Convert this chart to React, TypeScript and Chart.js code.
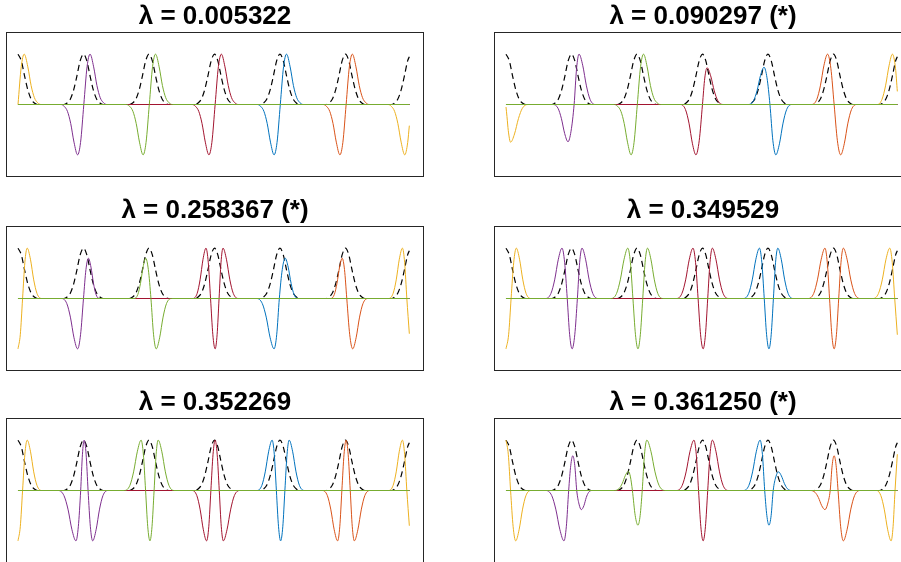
import React, { useEffect, useRef } from "react";
import { Chart, registerables } from "chart.js";
Chart.register(...registerables);

type Pt = [number, number];

// ---------- titles ----------
const TITLES: string[] = [
  "λ = 0.005322",
  "λ = 0.090297 (*)",
  "λ = 0.258367 (*)",
  "λ = 0.349529",
  "λ = 0.352269",
  "λ = 0.361250 (*)",
];

// ---------- common dashed reference curve ----------
const DASHED: Pt[] = [
  [0, 1], [0.05, 0.87], [0.1, 0.57], [0.15, 0.29], [0.2, 0.11], [0.25, 0.03], [0.3, 0],
  [0.7, 0], [0.75, 0.03], [0.8, 0.11], [0.85, 0.29], [0.9, 0.57], [0.95, 0.87], [1, 1], [1.05, 0.87], [1.1, 0.57], [1.15, 0.29], [1.2, 0.11], [1.25, 0.03], [1.3, 0],
  [1.7, 0], [1.75, 0.03], [1.8, 0.11], [1.85, 0.29], [1.9, 0.57], [1.95, 0.87], [2, 1], [2.05, 0.87], [2.1, 0.57], [2.15, 0.29], [2.2, 0.11], [2.25, 0.03], [2.3, 0],
  [2.7, 0], [2.75, 0.03], [2.8, 0.11], [2.85, 0.29], [2.9, 0.57], [2.95, 0.87], [3, 1], [3.05, 0.87], [3.1, 0.57], [3.15, 0.29], [3.2, 0.11], [3.25, 0.03], [3.3, 0],
  [3.7, 0], [3.75, 0.03], [3.8, 0.11], [3.85, 0.29], [3.9, 0.57], [3.95, 0.87], [4, 1], [4.05, 0.87], [4.1, 0.57], [4.15, 0.29], [4.2, 0.11], [4.25, 0.03], [4.3, 0],
  [4.7, 0], [4.75, 0.03], [4.8, 0.11], [4.85, 0.29], [4.9, 0.57], [4.95, 0.87], [5, 1], [5.05, 0.87], [5.1, 0.57], [5.15, 0.29], [5.2, 0.11], [5.25, 0.03], [5.3, 0],
  [5.7, 0], [5.75, 0.03], [5.8, 0.11], [5.85, 0.29], [5.9, 0.57], [5.95, 0.87], [5.975, 0.95],
];

// ---------- panel 1 ----------
const P1_ORANGE: Pt[] = [[0, 0], [0.05, 0.755], [0.095, 1], [0.15, 0.748], [0.2, 0.378], [0.25, 0.136], [0.3, 0.036], [0.35, 0], [5.65, 0], [5.7, -0.036], [5.75, -0.136], [5.8, -0.378], [5.85, -0.748], [5.905, -1], [5.95, -0.755], [5.975, -0.42]];
const P1_PURPLE: Pt[] = [[0, 0], [0.655, 0], [0.705, -0.036], [0.755, -0.136], [0.805, -0.378], [0.855, -0.748], [0.91, -1], [0.955, -0.755], [1.005, 0], [1.055, 0.755], [1.1, 1], [1.155, 0.748], [1.205, 0.378], [1.255, 0.136], [1.305, 0.036], [1.355, 0], [5.975, 0]];
const P1_GREEN: Pt[] = [[0, 0], [1.655, 0], [1.705, -0.036], [1.755, -0.136], [1.805, -0.378], [1.855, -0.748], [1.91, -1], [1.955, -0.755], [2.005, 0], [2.055, 0.755], [2.1, 1], [2.155, 0.748], [2.205, 0.378], [2.255, 0.136], [2.305, 0.036], [2.355, 0], [5.975, 0]];
const P1_RED: Pt[] = [[0, 0], [2.66, 0], [2.71, -0.036], [2.76, -0.136], [2.81, -0.378], [2.86, -0.748], [2.915, -1], [2.96, -0.755], [3.01, 0], [3.06, 0.755], [3.105, 1], [3.16, 0.748], [3.21, 0.378], [3.26, 0.136], [3.31, 0.036], [3.36, 0], [5.975, 0]];
const P1_BLUE: Pt[] = [[0, 0], [3.655, 0], [3.705, -0.036], [3.755, -0.136], [3.805, -0.378], [3.855, -0.748], [3.91, -1], [3.955, -0.755], [4.005, 0], [4.055, 0.755], [4.1, 1], [4.155, 0.748], [4.205, 0.378], [4.255, 0.136], [4.305, 0.036], [4.355, 0], [5.975, 0]];
const P1_ORANGERED: Pt[] = [[0, 0], [4.66, 0], [4.71, -0.036], [4.76, -0.136], [4.81, -0.378], [4.86, -0.748], [4.915, -1], [4.96, -0.755], [5.01, 0], [5.06, 0.755], [5.105, 1], [5.16, 0.748], [5.21, 0.378], [5.26, 0.136], [5.31, 0.036], [5.36, 0], [5.975, 0]];

// ---------- panel 2 ----------
const P2_ORANGE: Pt[] = [[0, -0.05], [0.015, -0.24], [0.035, -0.52], [0.07, -0.75], [0.13, -0.585], [0.19, -0.28], [0.25, -0.075], [0.334, 0], [5.67, 0], [5.74, 0.1], [5.795, 0.37], [5.85, 0.78], [5.9, 1], [5.947, 0.72], [5.975, 0.26]];
const P2_PURPLE: Pt[] = [[0, 0], [0.72, 0], [0.794, -0.074], [0.845, -0.274], [0.896, -0.577], [0.947, -0.74], [0.993, -0.53], [1.04, 0], [1.078, 0.72], [1.115, 1], [1.171, 0.78], [1.228, 0.37], [1.284, 0.1], [1.36, 0], [5.975, 0]];
const P2_GREEN: Pt[] = [[0, 0], [1.655, 0], [1.705, -0.036], [1.755, -0.136], [1.805, -0.378], [1.855, -0.748], [1.91, -1], [1.955, -0.755], [2.005, 0], [2.055, 0.755], [2.1, 1], [2.155, 0.748], [2.205, 0.378], [2.255, 0.136], [2.305, 0.036], [2.355, 0], [5.975, 0]];
const P2_RED: Pt[] = [[0, 0], [2.666, 0], [2.74, -0.1], [2.794, -0.37], [2.847, -0.78], [2.9, -1], [2.95, -0.72], [3.0, 0], [3.035, 0.525], [3.07, 0.73], [3.125, 0.57], [3.18, 0.27], [3.235, 0.073], [3.312, 0], [5.975, 0]];
const P2_BLUE: Pt[] = [[0, 0], [3.7, 0], [3.779, 0.074], [3.833, 0.274], [3.886, 0.577], [3.94, 0.74], [3.985, 0.53], [4.03, 0], [4.075, -0.72], [4.12, -1], [4.175, -0.78], [4.23, -0.37], [4.285, -0.1], [4.362, 0], [5.975, 0]];
const P2_ORANGERED: Pt[] = [[0, 0], [4.668, 0], [4.745, 0.1], [4.8, 0.37], [4.855, 0.78], [4.91, 1], [4.96, 0.72], [5.01, 0], [5.06, -0.72], [5.11, -1], [5.165, -0.78], [5.22, -0.37], [5.275, -0.1], [5.352, 0], [5.975, 0]];

// ---------- panel 3 ----------
const P3_ORANGE: Pt[] = [[0, -1], [0.035, -0.72], [0.07, 0], [0.105, 0.72], [0.14, 1], [0.19, 0.78], [0.24, 0.37], [0.29, 0.1], [0.36, 0], [5.66, 0], [5.727, 0.1], [5.775, 0.37], [5.822, 0.78], [5.87, 1], [5.903, 0.72], [5.937, 0], [5.975, -0.7]];
const P3_PURPLE: Pt[] = [[0, 0], [0.668, 0], [0.745, -0.1], [0.8, -0.37], [0.855, -0.78], [0.91, -1], [0.955, -0.72], [1.0, 0], [1.0375, 0.576], [1.075, 0.8], [1.114, 0.624], [1.153, 0.3], [1.191, 0.08], [1.245, 0], [5.975, 0]];
const P3_GREEN: Pt[] = [[0, 0], [1.774, 0], [1.83, 0.08], [1.87, 0.3], [1.91, 0.624], [1.95, 0.8], [1.99, 0.576], [2.03, 0], [2.07, -0.72], [2.11, -1], [2.1625, -0.78], [2.215, -0.37], [2.2675, -0.1], [2.341, 0], [5.975, 0]];
const P3_RED: Pt[] = [[0, 0], [2.672, 0], [2.735, 0.1], [2.78, 0.37], [2.825, 0.78], [2.87, 1], [2.905, 0.72], [2.94, 0], [2.975, -0.72], [3.01, -1], [3.04, -0.72], [3.07, 0], [3.1, 0.72], [3.13, 1], [3.1825, 0.78], [3.235, 0.37], [3.2875, 0.1], [3.361, 0], [5.975, 0]];
const P3_BLUE: Pt[] = [[0, 0], [3.646, 0], [3.73, -0.1], [3.79, -0.37], [3.85, -0.78], [3.91, -1], [3.95, -0.72], [3.99, 0], [4.035, 0.576], [4.08, 0.8], [4.125, 0.624], [4.17, 0.3], [4.215, 0.08], [4.278, 0], [5.975, 0]];
const P3_ORANGERED: Pt[] = [[0, 0], [4.774, 0], [4.83, 0.08], [4.87, 0.3], [4.91, 0.624], [4.95, 0.8], [4.985, 0.576], [5.02, 0], [5.065, -0.72], [5.11, -1], [5.1625, -0.78], [5.215, -0.37], [5.2675, -0.1], [5.341, 0], [5.975, 0]];

// ---------- panel 4 ----------
const P4_ORANGE: Pt[] = [[0, -1], [0.04, -0.72], [0.078, 0], [0.118, 0.72], [0.157, 1], [0.207, 0.78], [0.257, 0.37], [0.307, 0.1], [0.377, 0], [5.607, 0], [5.687, 0.1], [5.745, 0.37], [5.802, 0.78], [5.86, 1], [5.897, 0.72], [5.935, 0], [5.975, -0.72]];
const P4_PURPLE: Pt[] = [[0, 0], [0.607, 0], [0.686, 0.1], [0.743, 0.37], [0.799, 0.78], [0.855, 1], [0.895, 0.72], [0.935, 0], [0.972, -0.72], [1.01, -1], [1.05, -0.72], [1.09, 0], [1.125, 0.72], [1.16, 1], [1.215, 0.78], [1.27, 0.37], [1.325, 0.1], [1.402, 0], [5.975, 0]];
const P4_GREEN: Pt[] = [[0, 0], [1.607, 0], [1.688, 0.1], [1.745, 0.37], [1.803, 0.78], [1.86, 1], [1.899, 0.72], [1.938, 0], [1.977, -0.72], [2.015, -1], [2.051, -0.72], [2.088, 0], [2.124, 0.72], [2.16, 1], [2.2125, 0.78], [2.265, 0.37], [2.3175, 0.1], [2.391, 0], [5.975, 0]];
const P4_RED: Pt[] = [[0, 0], [2.607, 0], [2.686, 0.1], [2.743, 0.37], [2.799, 0.78], [2.855, 1], [2.894, 0.72], [2.933, 0], [2.971, -0.72], [3.01, -1], [3.045, -0.72], [3.08, 0], [3.115, 0.72], [3.15, 1], [3.205, 0.78], [3.26, 0.37], [3.315, 0.1], [3.392, 0], [5.975, 0]];
const P4_BLUE: Pt[] = [[0, 0], [3.628, 0], [3.705, 0.1], [3.76, 0.37], [3.815, 0.78], [3.87, 1], [3.906, 0.72], [3.943, 0], [3.979, -0.72], [4.015, -1], [4.049, -0.72], [4.083, 0], [4.116, 0.72], [4.15, 1], [4.2025, 0.78], [4.255, 0.37], [4.3075, 0.1], [4.381, 0], [5.975, 0]];
const P4_ORANGERED: Pt[] = [[0, 0], [4.617, 0], [4.698, 0.1], [4.755, 0.37], [4.813, 0.78], [4.87, 1], [4.905, 0.72], [4.94, 0], [4.975, -0.72], [5.01, -1], [5.045, -0.72], [5.08, 0], [5.115, 0.72], [5.15, 1], [5.2075, 0.78], [5.265, 0.37], [5.3225, 0.1], [5.403, 0], [5.975, 0]];

// ---------- panel 5 ----------
const P5_ORANGE: Pt[] = [[0, -1], [0.035, -0.72], [0.07, 0], [0.105, 0.72], [0.14, 1], [0.19, 0.78], [0.24, 0.37], [0.29, 0.1], [0.36, 0], [5.66, 0], [5.727, 0.1], [5.775, 0.37], [5.822, 0.78], [5.87, 1], [5.903, 0.72], [5.937, 0], [5.975, -0.7]];
const P5_PURPLE: Pt[] = [[0, 0], [0.616, 0], [0.701, -0.1], [0.763, -0.37], [0.824, -0.78], [0.885, -1], [0.921, -0.72], [0.957, 0], [0.984, 0.72], [1.01, 1], [1.04, 0.72], [1.07, 0], [1.105, -0.72], [1.14, -1], [1.1925, -0.78], [1.245, -0.37], [1.2975, -0.1], [1.371, 0], [5.975, 0]];
const P5_GREEN: Pt[] = [[0, 0], [1.627, 0], [1.708, 0.1], [1.765, 0.37], [1.823, 0.78], [1.88, 1], [1.914, 0.72], [1.948, 0], [1.981, -0.72], [2.015, -1], [2.046, -0.72], [2.078, 0], [2.109, 0.72], [2.14, 1], [2.195, 0.78], [2.25, 0.37], [2.305, 0.1], [2.382, 0], [5.975, 0]];
const P5_RED: Pt[] = [[0, 0], [2.66, 0], [2.73, -0.1], [2.78, -0.37], [2.83, -0.78], [2.88, -1], [2.913, -0.72], [2.945, 0], [2.978, 0.72], [3.01, 1], [3.041, 0.72], [3.073, 0], [3.104, -0.72], [3.135, -1], [3.191, -0.78], [3.248, -0.37], [3.304, -0.1], [3.383, 0], [5.975, 0]];
const P5_BLUE: Pt[] = [[0, 0], [3.649, 0], [3.723, 0.1], [3.775, 0.37], [3.828, 0.78], [3.88, 1], [3.913, 0.72], [3.945, 0], [3.978, -0.72], [4.01, -1], [4.043, -0.72], [4.075, 0], [4.108, 0.72], [4.14, 1], [4.1925, 0.78], [4.245, 0.37], [4.2975, 0.1], [4.371, 0], [5.975, 0]];
const P5_ORANGERED: Pt[] = [[0, 0], [4.649, 0], [4.723, -0.1], [4.775, -0.37], [4.828, -0.78], [4.88, -1], [4.913, -0.72], [4.945, 0], [4.978, 0.72], [5.01, 1], [5.041, 0.72], [5.073, 0], [5.104, -0.72], [5.135, -1], [5.189, -0.78], [5.243, -0.37], [5.296, -0.1], [5.372, 0], [5.975, 0]];

// ---------- panel 6 ----------
const P6_ORANGE: Pt[] = [[0, 1], [0.035, 0.72], [0.07, 0], [0.109, -0.72], [0.148, -1], [0.2, -0.78], [0.253, -0.37], [0.305, -0.1], [0.38, 0], [5.659, 0], [5.723, -0.1], [5.775, -0.37], [5.828, -0.78], [5.88, -1], [5.91, -0.72], [5.94, 0], [5.975, 0.72]];
const P6_PURPLE: Pt[] = [[0, 0], [0.61, 0], [0.698, -0.1], [0.76, -0.37], [0.823, -0.78], [0.885, -1], [0.921, -0.72], [0.957, 0], [0.989, 0.5], [1.02, 0.69], [1.05, 0.5], [1.08, 0], [1.115, -0.27], [1.15, -0.38], [1.19, -0.3], [1.225, -0.14], [1.26, -0.04], [1.31, 0], [5.975, 0]];
const P6_GREEN: Pt[] = [[0, 0], [1.66, 0], [1.727, 0.038], [1.775, 0.14], [1.823, 0.3], [1.87, 0.38], [1.9, 0.27], [1.93, 0], [1.973, -0.5], [2.015, -0.69], [2.048, -0.5], [2.08, 0], [2.115, 0.72], [2.15, 1], [2.2125, 0.78], [2.275, 0.37], [2.3375, 0.1], [2.425, 0], [5.975, 0]];
const P6_RED: Pt[] = [[0, 0], [2.606, 0], [2.69, 0.1], [2.75, 0.37], [2.81, 0.78], [2.87, 1], [2.905, 0.72], [2.94, 0], [2.975, -0.72], [3.01, -1], [3.045, -0.72], [3.08, 0], [3.115, 0.72], [3.15, 1], [3.205, 0.78], [3.26, 0.37], [3.315, 0.1], [3.392, 0], [5.975, 0]];
const P6_BLUE: Pt[] = [[0, 0], [3.627, 0], [3.708, 0.1], [3.765, 0.37], [3.823, 0.78], [3.88, 1], [3.915, 0.72], [3.95, 0], [3.983, -0.5], [4.015, -0.69], [4.048, -0.5], [4.08, 0], [4.12, 0.27], [4.16, 0.37], [4.205, 0.29], [4.25, 0.14], [4.295, 0.037], [4.358, 0], [5.975, 0]];
const P6_ORANGERED: Pt[] = [[0, 0], [4.65, 0], [4.72, -0.038], [4.77, -0.14], [4.82, -0.3], [4.87, -0.38], [4.91, -0.27], [4.95, 0], [4.98, 0.5], [5.01, 0.69], [5.04, 0.5], [5.07, 0], [5.11, -0.72], [5.15, -1], [5.2075, -0.78], [5.265, -0.37], [5.3225, -0.1], [5.403, 0], [5.975, 0]];

// ---------- styling ----------
const C_ORANGE = "#EDB120";
const C_PURPLE = "#7E2F8E";
const C_GREEN = "#77AC30";
const C_RED = "#A2142F";
const C_BLUE = "#0072BD";
const C_ORANGERED = "#D95319";

type Curves = { orange: Pt[]; purple: Pt[]; green: Pt[]; red: Pt[]; blue: Pt[]; orangered: Pt[] };

const PANELS: { title: string; curves: Curves; left: number; top: number }[] = [
  { title: TITLES[0], left: 6, top: 0, curves: { orange: P1_ORANGE, purple: P1_PURPLE, green: P1_GREEN, red: P1_RED, blue: P1_BLUE, orangered: P1_ORANGERED } },
  { title: TITLES[1], left: 494, top: 0, curves: { orange: P2_ORANGE, purple: P2_PURPLE, green: P2_GREEN, red: P2_RED, blue: P2_BLUE, orangered: P2_ORANGERED } },
  { title: TITLES[2], left: 6, top: 194, curves: { orange: P3_ORANGE, purple: P3_PURPLE, green: P3_GREEN, red: P3_RED, blue: P3_BLUE, orangered: P3_ORANGERED } },
  { title: TITLES[3], left: 494, top: 194, curves: { orange: P4_ORANGE, purple: P4_PURPLE, green: P4_GREEN, red: P4_RED, blue: P4_BLUE, orangered: P4_ORANGERED } },
  { title: TITLES[4], left: 6, top: 386, curves: { orange: P5_ORANGE, purple: P5_PURPLE, green: P5_GREEN, red: P5_RED, blue: P5_BLUE, orangered: P5_ORANGERED } },
  { title: TITLES[5], left: 494, top: 386, curves: { orange: P6_ORANGE, purple: P6_PURPLE, green: P6_GREEN, red: P6_RED, blue: P6_BLUE, orangered: P6_ORANGERED } },
];

const CW = 418;
const CH = 177;
const XMIN = -0.1832;
const XMAX = 6.199;

const boxPlugin = {
  id: "boxFrame",
  afterDraw(chart: any) {
    const { ctx, chartArea: a } = chart;
    ctx.save();
    ctx.strokeStyle = "#262626";
    ctx.lineWidth = 1;
    ctx.strokeRect(Math.round(a.left) + 0.5, Math.round(a.top) + 0.5, Math.round(a.right - a.left) - 1, Math.round(a.bottom - a.top) - 1);
    ctx.restore();
  },
};

const toXY = (pts: Pt[]) => pts.map(([x, y]) => ({ x, y }));

function Panel({ title, curves, left, top }: { title: string; curves: Curves; left: number; top: number }) {
  const ref = useRef<HTMLCanvasElement | null>(null);
  useEffect(() => {
    if (!ref.current) return;
    const line = (pts: Pt[], color: string, extra: any = {}) => ({
      data: toXY(pts),
      borderColor: color,
      backgroundColor: color,
      borderWidth: 1,
      pointRadius: 0,
      fill: false,
      cubicInterpolationMode: "monotone",
      ...extra,
    });
    // dataset index 0 is drawn on top
    const datasets: any[] = [
      line(curves.green, C_GREEN),
      line(curves.red, C_RED),
      line(curves.purple, C_PURPLE),
      line(curves.orange, C_ORANGE),
      line(curves.orangered, C_ORANGERED),
      line(curves.blue, C_BLUE),
      line(DASHED, "#000000", { borderDash: [6, 4], borderWidth: 1.2 }),
    ];
    const chart = new Chart(ref.current, {
      type: "line",
      data: { datasets },
      options: {
        animation: false,
        responsive: false,
        devicePixelRatio: 1,
        layout: { padding: 0 },
        scales: {
          x: { type: "linear", min: XMIN, max: XMAX, display: false },
          y: { type: "linear", min: -1.44, max: 1.44, display: false },
        },
        plugins: {
          legend: { display: false },
          tooltip: { enabled: false },
          title: {
            display: true,
            text: title,
            color: "#000000",
            font: { family: "'Liberation Sans', Arial, sans-serif", size: 26, weight: "bold", lineHeight: 1 },
            padding: { top: 4, bottom: 2 },
          },
        },
      } as any,
      plugins: [boxPlugin],
    });
    return () => chart.destroy();
  }, []);
  return (
    <canvas
      ref={ref}
      width={CW}
      height={CH}
      style={{ position: "absolute", left, top, width: CW, height: CH }}
    />
  );
}

export default function App() {
  return (
    <div style={{ position: "fixed", left: 0, top: 0, width: 901, height: 562, overflow: "hidden", background: "#ffffff" }}>
      {PANELS.map((p, i) => (
        <Panel key={i} title={p.title} curves={p.curves} left={p.left} top={p.top} />
      ))}
    </div>
  );
}
